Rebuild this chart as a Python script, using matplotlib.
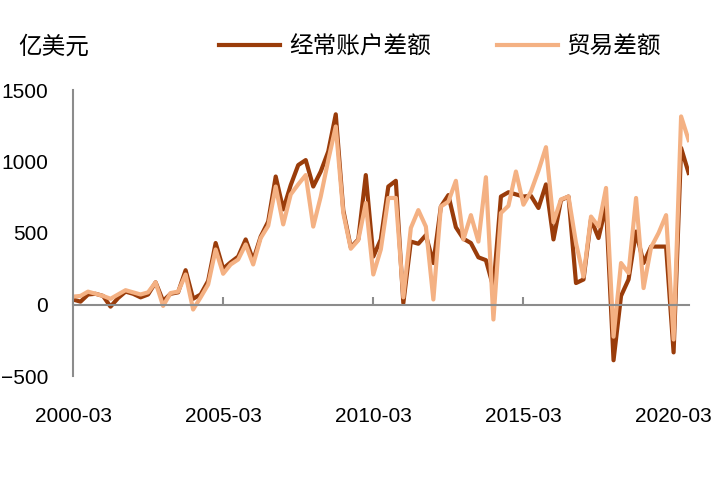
import matplotlib
matplotlib.use('Agg')
import matplotlib.pyplot as plt

# 季度数据 (亿美元), 2000-03 到 2020-09
quarters = [f"{2000 + i // 4}-{(i % 4) * 3 + 3:02d}" for i in range(83)]

current_account = [
    35, 20, 70, 75, 60, -15, 45, 90, 75, 50,
    70, 155, 25, 75, 85, 240, 40, 70, 165, 430,
    250, 295, 335, 455, 310, 475, 580, 895, 665, 835,
    975, 1010, 825, 930, 1070, 1330, 660, 400, 455, 905,
    335, 455, 825, 865, 10, 440, 425, 485, 290, 685,
    765, 540, 460, 430, 330, 310, 120, 755, 785, 770,
    755, 760, 675, 840, 455, 730, 755, 150, 175, 595,
    465, 690, -390, 60, 175, 510, 290, 405, 405, 405,
    -335, 1095, 920,
]

trade_balance = [
    55, 60, 90, 75, 60, 40, 70, 100, 85, 70,
    85, 155, -10, 80, 90, 210, -35, 50, 140, 385,
    215, 280, 315, 420, 280, 465, 550, 825, 560, 770,
    840, 905, 545, 755, 1010, 1245, 640, 390, 450, 710,
    210, 385, 745, 745, 50, 535, 660, 545, 35, 685,
    720, 865, 455, 625, 440, 890, -105, 640, 690, 930,
    698, 790, 935, 1100, 575, 735, 755, 430, 195, 615,
    545, 815, -225, 290, 220, 745, 115, 400, 500, 625,
    -245, 1315, 1150,
]

plt.rcParams['font.family'] = ['Liberation Sans', 'Noto Sans CJK SC', 'DejaVu Sans']

fig = plt.figure(figsize=(7.2, 5), dpi=100)
ax = fig.add_axes([0.1014, 0.248, 0.855, 0.572])

x = list(range(len(quarters)))
ax.plot(x, current_account, color='#9A3C0A', lw=3, label='经常账户差额')
ax.plot(x, trade_balance, color='#F4B183', lw=3, label='贸易差额')

ax.set_xlim(0, len(quarters) - 1)
ax.set_ylim(-500, 1500)
ax.set_yticks([-500, 0, 500, 1000, 1500])

tick_pos = list(range(0, len(quarters), 20))
ax.set_xticks(tick_pos)
ax.set_xticklabels([quarters[i] for i in tick_pos])

for s in ['top', 'right']:
    ax.spines[s].set_visible(False)
ax.spines['left'].set_color('#8C8C8C')
ax.spines['left'].set_linewidth(1.5)
ax.spines['bottom'].set_position(('data', 0))
ax.spines['bottom'].set_color('#8C8C8C')
ax.spines['bottom'].set_linewidth(1.5)

ax.tick_params(axis='x', direction='in', length=6, width=1.5, color='#8C8C8C',
               labelsize=15, pad=74)
ax.tick_params(axis='y', length=0, labelsize=15, pad=18)

fig.text(0.025, 0.906, '亿美元', fontsize=17, va='center', ha='left',
         family=['Noto Sans CJK SC'])

fig.legend(loc='center', bbox_to_anchor=(0.611, 0.906), ncol=2, frameon=False,
           handlelength=2.6, handletextpad=0.35, columnspacing=2.8,
           prop={'family': ['Noto Sans CJK SC'], 'size': 17})

fig.savefig('out.png', dpi=100)
